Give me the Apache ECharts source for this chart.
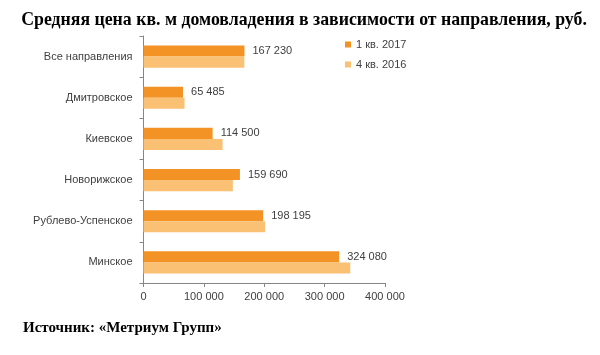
<!DOCTYPE html>
<html>
<head>
<meta charset="utf-8">
<script src="https://cdn.jsdelivr.net/npm/echarts@6/dist/echarts.min.js"></script>
<style>
html,body{margin:0;padding:0;background:#fff;}
#c{width:600px;height:355px;}
</style>
</head>
<body>
<div id="c"></div>
<script>
const titleText = 'Средняя цена кв. м домовладения в зависимости от направления, руб.';
const sourceText = 'Источник: «Метриум Групп»';
const categories = ['Все направления', 'Дмитровское', 'Киевское', 'Новорижское', 'Рублево-Успенское', 'Минское'];
const seriesNames = ['1 кв. 2017', '4 кв. 2016'];
const q1_2017 = [167230, 65485, 114500, 159690, 198195, 324080];
const q4_2016 = [167000, 68000, 131000, 148000, 201500, 342500];
const xTicks = [0, 100000, 200000, 300000, 400000];

const fmt = v => String(v).replace(/\B(?=(\d{3})+(?!\d))/g, ' ');
const labelFont = 'Liberation Sans, Arial, sans-serif';

const chart = echarts.init(document.getElementById('c'), null, {renderer: 'canvas'});
chart.setOption({
  animation: false,
  backgroundColor: '#ffffff',
  title: [
    {text: titleText, left: 299, textAlign: 'center', top: 6,
     textStyle: {fontFamily: 'Liberation Serif, Times New Roman, serif', fontWeight: 'bold', fontSize: 17.8, color: '#000'}},
    {text: sourceText, left: 18, top: 316,
     textStyle: {fontFamily: 'Liberation Serif, Times New Roman, serif', fontWeight: 'bold', fontSize: 15, color: '#000'}}
  ],
  legend: {
    orient: 'vertical', left: 340, top: 34,
    itemWidth: 6, itemHeight: 6, itemGap: 9, icon: 'rect',
    textStyle: {fontFamily: labelFont, fontSize: 11, color: '#404040'},
    data: seriesNames
  },
  grid: {left: 143.5, right: 215, top: 36, bottom: 72, containLabel: false},
  xAxis: {
    type: 'value', min: xTicks[0], max: xTicks[xTicks.length - 1], interval: 100000,
    splitLine: {show: false},
    axisLine: {show: true, lineStyle: {color: '#868686'}},
    axisTick: {show: true, length: 4, lineStyle: {color: '#868686'}},
    axisLabel: {formatter: v => fmt(v), fontFamily: labelFont, fontSize: 11, color: '#404040', margin: 8}
  },
  yAxis: {
    type: 'category', data: categories, inverse: true,
    axisLine: {show: true, lineStyle: {color: '#868686'}},
    axisTick: {show: true, length: 4, lineStyle: {color: '#868686'}},
    axisLabel: {fontFamily: labelFont, fontSize: 11, color: '#404040', margin: 11}
  },
  series: [
    {name: seriesNames[0], type: 'bar', data: q1_2017, barGap: '0%', barCategoryGap: '46%',
     itemStyle: {color: '#F39325'},
     label: {show: true, position: 'right', distance: 8, formatter: p => fmt(p.value),
             fontFamily: labelFont, fontSize: 11, color: '#404040'}},
    {name: seriesNames[1], type: 'bar', data: q4_2016, barGap: '0%', barCategoryGap: '46%',
     itemStyle: {color: '#FAC073'}}
  ]
});
</script>
</body>
</html>
